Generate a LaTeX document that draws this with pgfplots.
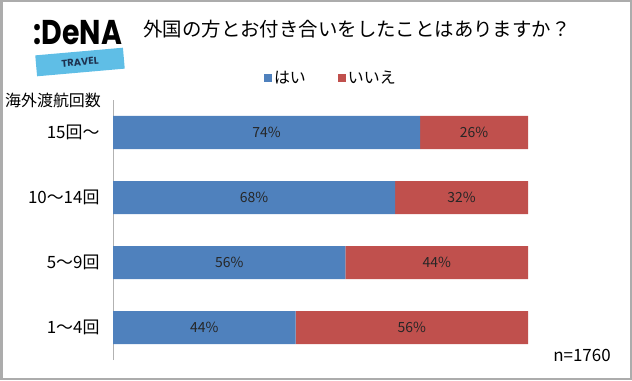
\documentclass[border=0pt]{standalone}
\usepackage{pgfplots}
\pgfplotsset{compat=1.18}
\usepackage{fontspec}
\setmainfont{Noto Sans CJK JP}
\newfontfamily\logofont{Poppins}
\definecolor{barblue}{RGB}{79,129,189}
\definecolor{barred}{RGB}{192,80,77}
\definecolor{logoblue}{RGB}{95,190,230}
\definecolor{logonavy}{RGB}{30,50,80}
\pgfplotsset{
  common/.style={
    at={(113bp,20bp)}, anchor=south west,
    scale only axis, width=415bp, height=260bp,
    xmin=0, xmax=100, ymin=0.5, ymax=4.5, clip=false,
  }
}
\begin{document}
\begin{tikzpicture}[x=1bp,y=1bp]
\path[use as bounding box] (0,0) rectangle (632,380);
\draw[gray!65, line width=2.5bp] (1.25,1.25) rectangle (630.75,378.75);
% logo
\node[font=\logofont\bfseries\fontsize{30}{30}\selectfont, inner sep=0, yscale=1.15, xscale=0.95] at (78,347) {:DeNA};
\node[fill=logoblue, rotate=5, minimum width=88bp, minimum height=21bp, inner sep=0,
      font=\logofont\bfseries\fontsize{10}{10}\selectfont, text=logonavy] at (80,318) {TRAVEL};
% title
\node[font=\fontsize{19.5}{20}\selectfont, inner sep=0] at (357,351) {外国の方とお付き合いをしたことはありますか？};
\node[font=\fontsize{16}{16}\selectfont, inner sep=0] at (53,280) {海外渡航回数};
\node[font=\fontsize{17}{17}\selectfont, inner sep=0] at (582,25) {n=1760};
\begin{axis}[
  common,
  xbar stacked, bar width=33bp,
  axis x line=none, axis y line*=left,
  y axis line style={gray!60, line width=1bp, -},
  ytick={1,2,3,4},
  yticklabels={1〜4回,5〜9回,10〜14回,15回〜},
  major tick length=0,
  yticklabel style={font=\fontsize{17}{17}\selectfont, xshift=-10bp},
  legend style={at={(0.525,1.085)}, anchor=center, draw=none, fill=none,
     legend columns=2, font=\fontsize{16}{16}\selectfont,
     /tikz/every even column/.append style={column sep=30bp}},
  legend image code/.code={\fill[#1] (0bp,-4bp) rectangle (8bp,4bp);},
]
\addplot[fill=barblue, draw=none] coordinates {(44,1) (56,2) (68,3) (74,4)};
\addplot[fill=barred, draw=none] coordinates {(56,1) (44,2) (32,3) (26,4)};
\legend{はい,いいえ}
\end{axis}
\begin{axis}[
  common, hide axis,
]
\addplot[draw=none, mark=none, nodes near coords, point meta=explicit symbolic,
  every node near coord/.append style={anchor=center, font=\fontsize{14}{14}\selectfont, text=black!85}]
  coordinates {(22,1) [44\%] (28,2) [56\%] (34,3) [68\%] (37,4) [74\%]
               (72,1) [56\%] (78,2) [44\%] (84,3) [32\%] (87,4) [26\%]};
\end{axis}
\end{tikzpicture}
\end{document}
